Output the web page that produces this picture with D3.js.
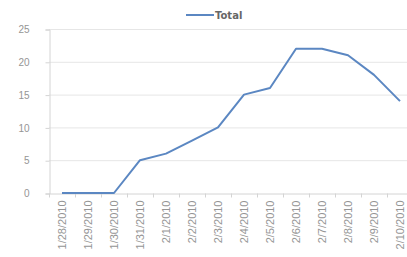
<!DOCTYPE html>
<html>
<head>
<meta charset="utf-8">
<script src="https://cdn.jsdelivr.net/npm/d3@7"></script>
<style>
  body { margin: 0; background: #fff; }
  svg { display: block; font-family: "DejaVu Sans", Verdana, sans-serif; }
</style>
</head>
<body>
<div id="chart"></div>
<script>
const WIDTH = 407;
const HEIGHT = 257;

const dates = ['1/28/2010', '1/29/2010', '1/30/2010', '1/31/2010', '2/1/2010',
  '2/2/2010', '2/3/2010', '2/4/2010', '2/5/2010', '2/6/2010', '2/7/2010',
  '2/8/2010', '2/9/2010', '2/10/2010'];
const totals = [0, 0, 0, 5, 6, 8, 10, 15, 16, 22, 22, 21, 18, 14];
const yTicks = [0, 5, 10, 15, 20, 25];
const seriesName = 'Total';

const LEFT = 49;
const BAND = 26;
const TOP = 29;
const BOTTOM = 193;

let svg = d3.select('#chart').append('svg')
    .attr('width', WIDTH)
    .attr('height', HEIGHT);

let xScale = d3.scaleBand()
    .domain(dates)
    .range([LEFT, LEFT + BAND * dates.length]);

let yScale = d3.scaleLinear()
    .domain([0, 25])
    .range([BOTTOM, TOP]);

// horizontal gridlines
svg.append('g')
    .selectAll('line')
    .data(yTicks.filter(function(t) { return t > 0; }))
    .join('line')
    .attr('x1', LEFT)
    .attr('x2', WIDTH)
    .attr('y1', function(t) { return yScale(t) + 0.5; })
    .attr('y2', function(t) { return yScale(t) + 0.5; })
    .attr('stroke', '#e6e6e6')
    .attr('stroke-width', 1);

// y axis
let yAxis = svg.append('g')
    .attr('transform', 'translate(' + (LEFT + 0.5) + ',0.5)')
    .call(d3.axisLeft(yScale).tickValues(yTicks).tickSize(4).tickPadding(16));
yAxis.select('.domain').attr('stroke', '#d4d4d4');
yAxis.selectAll('.tick line').attr('stroke', '#d4d4d4');
yAxis.selectAll('text')
    .attr('fill', '#959595')
    .style('font-size', '10px');

// x axis
let xAxis = svg.append('g')
    .attr('transform', 'translate(0,' + (BOTTOM + 0.5) + ')')
    .call(d3.axisBottom(xScale).tickSize(0).tickPadding(0));
xAxis.select('.domain').attr('stroke', '#d4d4d4');
xAxis.selectAll('.tick line').remove();
xAxis.selectAll('.tick')
    .append('line')
    .attr('x1', -BAND / 2 + 0.5)
    .attr('x2', -BAND / 2 + 0.5)
    .attr('y1', 0)
    .attr('y2', 4)
    .attr('stroke', '#d4d4d4');
xAxis.selectAll('text')
    .attr('fill', '#959595')
    .style('font-size', '11px')
    .attr('text-anchor', 'end')
    .attr('dy', '0.35em')
    .attr('transform', 'translate(0,7) rotate(-90)');

// the line
let line = d3.line()
    .x(function(d, i) { return xScale(dates[i]) + xScale.bandwidth() / 2; })
    .y(function(d) { return yScale(d); });

svg.append('path')
    .datum(totals)
    .attr('fill', 'none')
    .attr('stroke', '#5b87c2')
    .attr('stroke-width', 2)
    .attr('stroke-linejoin', 'round')
    .attr('d', line);

// legend
let legend = svg.append('g').attr('transform', 'translate(186,15)');
legend.append('line')
    .attr('x1', 0)
    .attr('x2', 28)
    .attr('y1', 0)
    .attr('y2', 0)
    .attr('stroke', '#5b87c2')
    .attr('stroke-width', 2);
legend.append('text')
    .attr('x', 29)
    .attr('y', 0)
    .attr('dy', '0.35em')
    .attr('fill', '#666')
    .style('font-size', '10px')
    .style('font-weight', 'bold')
    .text(seriesName);
</script>
</body>
</html>
